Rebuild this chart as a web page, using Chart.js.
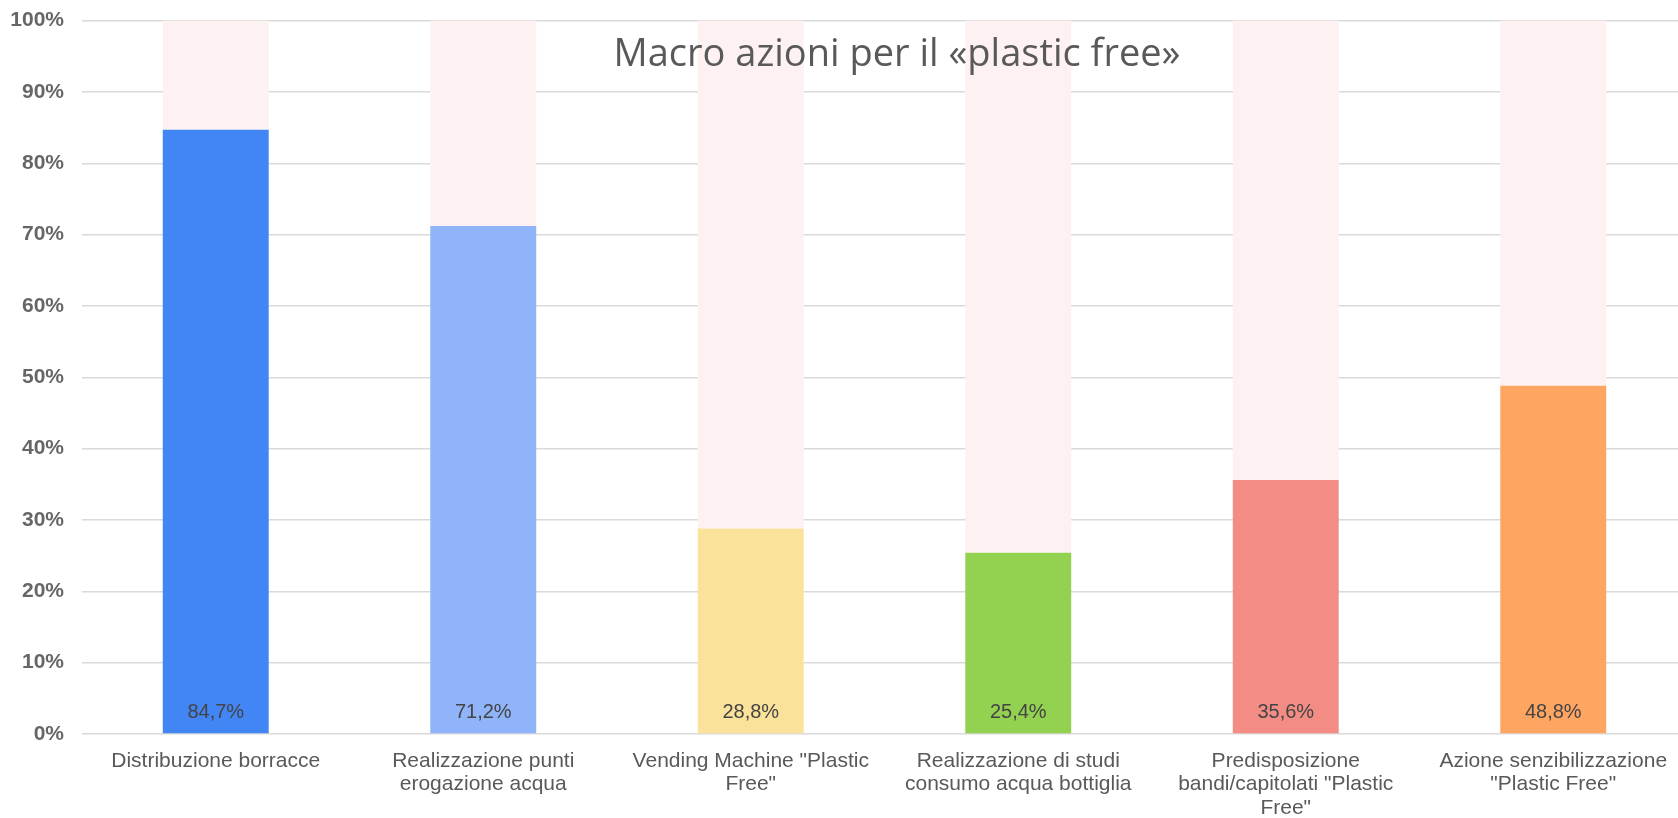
<!DOCTYPE html>
<html lang="it">
<head>
  <meta charset="UTF-8">
  <title>Macro azioni per il plastic free</title>
  <script src="https://cdn.jsdelivr.net/npm/chart.js"></script>
  <style>
    html, body {
      margin: 0;
      padding: 0;
      background: #ffffff;
      overflow: hidden;
    }
    .wrap {
      position: relative;
      width: 1687px;
      height: 828px;
      margin-top: -10px;
    }
    #chartTitle {
      position: absolute;
      left: 897px;
      top: 42px;
      transform: translateX(-50%);
      font-family: "Open Sans", sans-serif;
      font-size: 38px;
      color: #595959;
      white-space: nowrap;
      line-height: 1;
    }
  </style>
</head>
<body>
  <div class="wrap">
    <canvas id="bars" width="1687" height="828"></canvas>
    <div id="chartTitle">Macro azioni per il «plastic free»</div>
  </div>

  <script>
    // categories (already split into lines as in the picture)
    const categories = [
      ["Distribuzione borracce"],
      ["Realizzazione punti", "erogazione acqua"],
      ["Vending Machine \"Plastic", "Free\""],
      ["Realizzazione di studi", "consumo acqua bottiglia"],
      ["Predisposizione", "bandi/capitolati \"Plastic", "Free\""],
      ["Azione senzibilizzazione", "\"Plastic Free\""]
    ];
    const percentages = [84.7, 71.2, 28.8, 25.4, 35.6, 48.8];
    const barColors = ["#4285f4", "#8fb4f9", "#fbe29b", "#93d150", "#f28c84", "#ffa562"];
    const restColor = "#fdf2f1";
    const yTicks = [0, 10, 20, 30, 40, 50, 60, 70, 80, 90, 100];

    // pale part of each column up to 100%
    const rest = percentages.map(v => 100 - v);

    const fmt = v => v.toFixed(1).replace('.', ',') + '%';

    // value labels sit at the foot of each coloured bar
    const valueLabels = {
      id: 'valueLabels',
      afterDatasetsDraw(chart) {
        const ctx = chart.ctx;
        const meta = chart.getDatasetMeta(0);
        const yScale = chart.scales.y;
        ctx.save();
        ctx.font = '20px "Liberation Sans", Arial, sans-serif';
        ctx.fillStyle = '#444444';
        ctx.textAlign = 'center';
        ctx.textBaseline = 'middle';
        meta.data.forEach((bar, i) => {
          ctx.fillText(fmt(percentages[i]), bar.x, yScale.getPixelForValue(0) - 22);
        });
        ctx.restore();
      }
    };

    new Chart(document.getElementById('bars'), {
      type: 'bar',
      data: {
        labels: categories,
        datasets: [
          {
            label: 'Percentuale',
            data: percentages,
            backgroundColor: barColors,
            borderWidth: 0,
            barPercentage: 0.396,
            categoryPercentage: 1
          },
          {
            label: 'Resto',
            data: rest,
            backgroundColor: restColor,
            borderWidth: 0,
            barPercentage: 0.396,
            categoryPercentage: 1
          }
        ]
      },
      options: {
        responsive: false,
        animation: false,
        layout: { padding: { top: 10, right: 0, bottom: 0, left: 0 } },
        plugins: {
          legend: { display: false },
          tooltip: { enabled: false }
        },
        scales: {
          x: {
            stacked: true,
            grid: { display: false },
            border: { display: false },
            ticks: {
              color: '#595959',
              font: { family: '"Liberation Sans", Arial, sans-serif', size: 21, lineHeight: 1.12 },
              padding: 7,
              maxRotation: 0,
              autoSkip: false
            },
            afterFit(scale) { scale.height = 84; }
          },
          y: {
            stacked: true,
            min: 0,
            max: 100,
            afterBuildTicks(scale) {
              scale.ticks = yTicks.map(v => ({ value: v }));
            },
            grid: {
              color: '#dadada',
              lineWidth: 1.5,
              drawTicks: false
            },
            border: { display: false },
            ticks: {
              color: '#666666',
              font: { family: '"Liberation Sans", Arial, sans-serif', size: 21, weight: 'bold' },
              padding: 18,
              callback: v => v + '%'
            },
            afterFit(scale) { scale.width = 82; }
          }
        }
      },
      plugins: [valueLabels]
    });
  </script>
</body>
</html>
